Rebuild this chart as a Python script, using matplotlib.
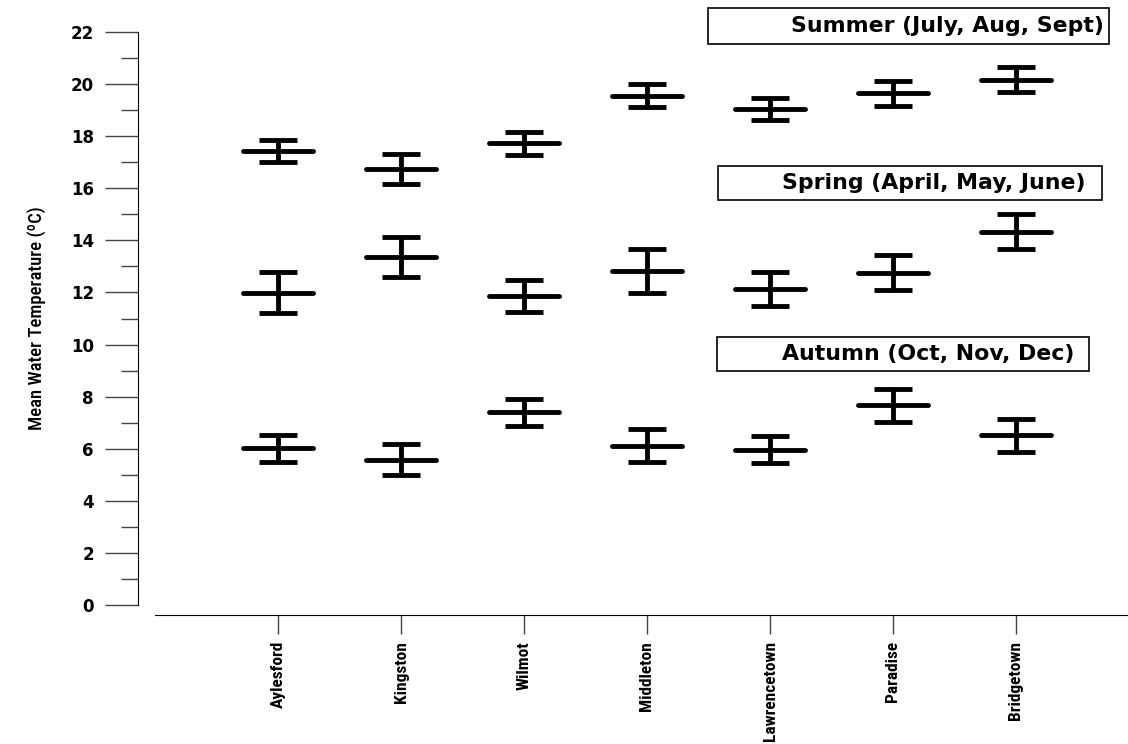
import numpy as np
import matplotlib.pyplot as plt
from matplotlib.patches import Rectangle

# Sites along the river
sites = ["Aylesford", "Kingston", "Wilmot", "Middleton",
         "Lawrencetown", "Paradise", "Bridgetown"]

# Seasonal mean water temperature (degC) and error
summer_mean = [17.43, 16.73, 17.73, 19.56, 19.04, 19.64, 20.17]
summer_err = [0.43, 0.57, 0.44, 0.45, 0.43, 0.49, 0.47]
spring_mean = [11.99, 13.36, 11.86, 12.82, 12.13, 12.76, 14.34]
spring_err = [0.78, 0.78, 0.61, 0.84, 0.65, 0.67, 0.69]
autumn_mean = [6.02, 5.58, 7.40, 6.12, 5.96, 7.67, 6.52]
autumn_err = [0.52, 0.60, 0.52, 0.63, 0.52, 0.64, 0.64]

seasons = [
    ("Summer (July, Aug, Sept)", summer_mean, summer_err),
    ("Spring (April, May, June)", spring_mean, spring_err),
    ("Autumn (Oct, Nov, Dec)", autumn_mean, autumn_err),
]

# narrow face for the site names and axis title
narrow = ["Liberation Sans Narrow", "Roboto Condensed", "DejaVu Sans"]

W, H = 1128, 744
fig = plt.figure(figsize=(W / 100, H / 100), dpi=100)
ax = fig.add_axes([155 / W, 1 - 605 / H, 1 - 155 / W, (605 - 32) / H])

x = np.arange(1, len(sites) + 1)
for label, mean, err in seasons:
    ax.errorbar(x, mean, yerr=err, fmt="none", ecolor="black",
                elinewidth=3.5, capsize=13.5, capthick=3.5)
    ax.hlines(mean, x - 0.285, x + 0.285, colors="black", lw=3.5,
              capstyle="round")

ax.set_xlim(0, (W - 155) / 123)
ax.set_ylim(0, 22)

ax.spines["top"].set_visible(False)
ax.spines["right"].set_visible(False)
ax.spines["left"].set_position(("outward", 12))
ax.spines["bottom"].set_position(("outward", 7))

ax.set_yticks(np.arange(0, 23, 2))
ax.set_yticks(np.arange(1, 22, 2), minor=True)
ax.set_xticks(x)
ax.set_xticklabels(sites, rotation=90, fontsize=12.5, fontweight="bold",
                   family=narrow, fontstretch="condensed")
for t in ax.get_yticklabels():
    t.set_fontweight("bold")
    t.set_fontsize(12)
    t.set_family("DejaVu Sans")

ax.tick_params(axis="y", which="major", length=24, width=1, color="#444444", pad=8)
ax.tick_params(axis="y", which="minor", length=12, width=1, color="#444444")
ax.tick_params(axis="x", which="major", length=14, width=1, color="#444444", pad=5)

ax.set_ylabel("Mean Water Temperature (ºC)", fontsize=13.5, family=narrow,
              fontstretch="condensed", fontweight="medium", labelpad=18)

# Season label boxes (pixel layout of the reference)
boxes = [
    (708, 8, 1109, 44, 1104),
    (718, 166, 1102, 200, 1086),
    (717, 337, 1089, 371, 1074),
]
for (label, _, _), (x0, y0, x1, y1, xt) in zip(seasons, boxes):
    fig.patches.append(Rectangle((x0 / W, 1 - y1 / H), (x1 - x0) / W,
                                 (y1 - y0) / H, transform=fig.transFigure,
                                 facecolor="white", edgecolor="black", lw=1.2))
    fig.text(xt / W, 1 - (y0 + y1) / 2 / H, label, ha="right", va="center",
             fontsize=15.8, fontweight="bold", family="DejaVu Sans")

fig.savefig("out.png", dpi=100)
